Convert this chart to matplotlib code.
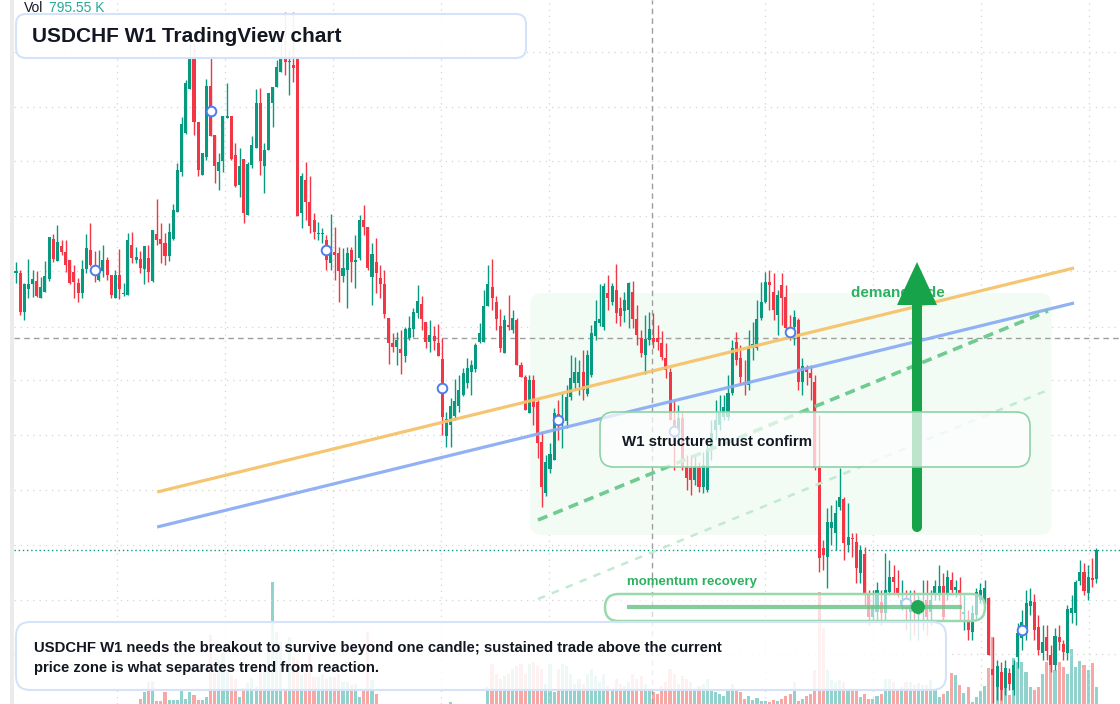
import numpy as np
import matplotlib
matplotlib.use("Agg")
import matplotlib.pyplot as plt
from matplotlib.colors import to_rgba
from matplotlib.patches import FancyBboxPatch, FancyArrow, Circle, Rectangle

plt.rcParams['font.family'] = ['Liberation Sans', 'DejaVu Sans']

# weekly USDCHF candles, oldest first
opens = [
    0.9727, 0.9727, 0.9688, 0.9711, 0.9716, 0.9719, 0.9702, 0.9708, 0.9721, 0.9761,
    0.9739, 0.9754, 0.9748, 0.9740, 0.9728, 0.9717, 0.9707, 0.9731, 0.9750, 0.9735,
    0.9720, 0.9729, 0.9740, 0.9725, 0.9702, 0.9725, 0.9706, 0.9705, 0.9755, 0.9740,
    0.9741, 0.9731, 0.9742, 0.9719, 0.9766, 0.9761, 0.9757, 0.9744, 0.9761, 0.9788,
    0.9828, 0.9867, 0.9911, 0.9943, 0.9878, 0.9825, 0.9843, 0.9914, 0.9865, 0.9829,
    0.9839, 0.9882, 0.9884, 0.9845, 0.9815, 0.9841, 0.9785, 0.9835, 0.9852, 0.9897,
    0.9834, 0.9850, 0.9897, 0.9913, 0.9928, 0.9942, 0.9938, 0.9935, 0.9942, 0.9787,
    0.9820, 0.9798, 0.9780, 0.9766, 0.9766, 0.9760, 0.9737, 0.9748, 0.9747, 0.9724,
    0.9730, 0.9750, 0.9738, 0.9742, 0.9780, 0.9773, 0.9723, 0.9738, 0.9722, 0.9716,
    0.9682, 0.9657, 0.9653, 0.9651, 0.9644, 0.9662, 0.9671, 0.9687, 0.9696, 0.9678,
    0.9658, 0.9664, 0.9657, 0.9641, 0.9564, 0.9575, 0.9584, 0.9594, 0.9605, 0.9617,
    0.9628, 0.9631, 0.9658, 0.9658, 0.9694, 0.9713, 0.9698, 0.9674, 0.9647, 0.9675,
    0.9670, 0.9680, 0.9635, 0.9623, 0.9587, 0.9620, 0.9598, 0.9558, 0.9507, 0.9531,
    0.9540, 0.9586, 0.9577, 0.9579, 0.9603, 0.9617, 0.9617, 0.9628, 0.9606, 0.9625,
    0.9664, 0.9677, 0.9673, 0.9707, 0.9698, 0.9710, 0.9692, 0.9689, 0.9690, 0.9708,
    0.9681, 0.9662, 0.9645, 0.9660, 0.9662, 0.9662, 0.9657, 0.9642, 0.9628, 0.9580,
    0.9570, 0.9582, 0.9533, 0.9532, 0.9520, 0.9532, 0.9513, 0.9510, 0.9550, 0.9570,
    0.9575, 0.9583, 0.9583, 0.9607, 0.9658, 0.9642, 0.9618, 0.9615, 0.9652, 0.9652,
    0.9682, 0.9698, 0.9718, 0.9708, 0.9685, 0.9715, 0.9703, 0.9672, 0.9673, 0.9680,
    0.9618, 0.9631, 0.9627, 0.9618, 0.9532, 0.9452, 0.9443, 0.9472, 0.9467, 0.9493,
    0.9501, 0.9455, 0.9462, 0.9458, 0.9427, 0.9446, 0.9407, 0.9383, 0.9388, 0.9398,
    0.9387, 0.9408, 0.9423, 0.9412, 0.9395, 0.9402, 0.9388, 0.9395, 0.9385, 0.9388,
    0.9400, 0.9388, 0.9407, 0.9407, 0.9414, 0.9407, 0.9420, 0.9410, 0.9410, 0.9386,
    0.9380, 0.9368, 0.9385, 0.9400, 0.9400, 0.9402, 0.9331, 0.9313, 0.9328, 0.9312,
    0.9327, 0.9310, 0.9343, 0.9362, 0.9367, 0.9394, 0.9398, 0.9373, 0.9347, 0.9363,
    0.9345, 0.9335, 0.9363, 0.9356, 0.9347, 0.9387, 0.9387, 0.9419, 0.9428, 0.9407,
    0.9422, 0.9421,
]
closes = [
    0.9729, 0.9688, 0.9716, 0.9716, 0.9721, 0.9704, 0.9713, 0.9724, 0.9763, 0.9741,
    0.9758, 0.9748, 0.9735, 0.9717, 0.9718, 0.9707, 0.9731, 0.9752, 0.9735, 0.9725,
    0.9729, 0.9740, 0.9725, 0.9705, 0.9725, 0.9711, 0.9707, 0.9760, 0.9742, 0.9743,
    0.9732, 0.9754, 0.9728, 0.9770, 0.9760, 0.9756, 0.9744, 0.9768, 0.9790, 0.9830,
    0.9876, 0.9917, 0.9943, 0.9878, 0.9830, 0.9847, 0.9914, 0.9864, 0.9834, 0.9838,
    0.9884, 0.9884, 0.9841, 0.9814, 0.9834, 0.9787, 0.9836, 0.9855, 0.9897, 0.9839,
    0.9850, 0.9907, 0.9913, 0.9933, 0.9942, 0.9938, 0.9939, 0.9932, 0.9784, 0.9824,
    0.9798, 0.9774, 0.9768, 0.9767, 0.9767, 0.9740, 0.9747, 0.9745, 0.9729, 0.9732,
    0.9747, 0.9738, 0.9740, 0.9780, 0.9773, 0.9732, 0.9746, 0.9727, 0.9716, 0.9686,
    0.9657, 0.9653, 0.9660, 0.9647, 0.9671, 0.9672, 0.9688, 0.9699, 0.9681, 0.9658,
    0.9665, 0.9659, 0.9644, 0.9583, 0.9581, 0.9594, 0.9599, 0.9610, 0.9627, 0.9632,
    0.9635, 0.9655, 0.9667, 0.9694, 0.9716, 0.9702, 0.9681, 0.9652, 0.9680, 0.9673,
    0.9682, 0.9635, 0.9623, 0.9590, 0.9620, 0.9593, 0.9557, 0.9513, 0.9538, 0.9546,
    0.9587, 0.9575, 0.9580, 0.9603, 0.9622, 0.9628, 0.9628, 0.9610, 0.9645, 0.9667,
    0.9679, 0.9681, 0.9714, 0.9702, 0.9714, 0.9687, 0.9684, 0.9700, 0.9717, 0.9681,
    0.9665, 0.9647, 0.9661, 0.9671, 0.9658, 0.9658, 0.9643, 0.9630, 0.9580, 0.9558,
    0.9582, 0.9533, 0.9522, 0.9520, 0.9533, 0.9513, 0.9535, 0.9550, 0.9567, 0.9580,
    0.9587, 0.9593, 0.9607, 0.9652, 0.9640, 0.9623, 0.9615, 0.9653, 0.9656, 0.9681,
    0.9698, 0.9718, 0.9715, 0.9690, 0.9705, 0.9702, 0.9672, 0.9664, 0.9683, 0.9618,
    0.9634, 0.9628, 0.9622, 0.9532, 0.9442, 0.9445, 0.9478, 0.9478, 0.9487, 0.9503,
    0.9457, 0.9463, 0.9461, 0.9432, 0.9450, 0.9407, 0.9383, 0.9395, 0.9410, 0.9387,
    0.9410, 0.9423, 0.9418, 0.9407, 0.9400, 0.9392, 0.9400, 0.9388, 0.9392, 0.9398,
    0.9383, 0.9400, 0.9414, 0.9414, 0.9383, 0.9423, 0.9410, 0.9413, 0.9407, 0.9388,
    0.9370, 0.9387, 0.9408, 0.9410, 0.9412, 0.9345, 0.9325, 0.9334, 0.9310, 0.9332,
    0.9316, 0.9335, 0.9367, 0.9378, 0.9397, 0.9399, 0.9370, 0.9350, 0.9358, 0.9349,
    0.9335, 0.9364, 0.9358, 0.9348, 0.9391, 0.9392, 0.9418, 0.9428, 0.9409, 0.9423,
    0.9420, 0.9450,
]
highs = [
    0.9738, 0.9730, 0.9717, 0.9741, 0.9730, 0.9729, 0.9723, 0.9739, 0.9763, 0.9766,
    0.9775, 0.9760, 0.9760, 0.9740, 0.9735, 0.9722, 0.9740, 0.9766, 0.9777, 0.9749,
    0.9750, 0.9755, 0.9743, 0.9725, 0.9730, 0.9751, 0.9717, 0.9767, 0.9768, 0.9753,
    0.9749, 0.9754, 0.9755, 0.9770, 0.9801, 0.9777, 0.9767, 0.9777, 0.9796, 0.9837,
    0.9883, 0.9920, 0.9957, 0.9957, 0.9878, 0.9847, 0.9921, 0.9942, 0.9865, 0.9847,
    0.9884, 0.9917, 0.9884, 0.9857, 0.9852, 0.9841, 0.9838, 0.9864, 0.9911, 0.9912,
    0.9857, 0.9907, 0.9913, 0.9940, 0.9957, 0.9988, 0.9950, 0.9988, 0.9942, 0.9827,
    0.9838, 0.9824, 0.9787, 0.9778, 0.9772, 0.9765, 0.9786, 0.9773, 0.9753, 0.9752,
    0.9753, 0.9753, 0.9765, 0.9785, 0.9795, 0.9773, 0.9757, 0.9762, 0.9735, 0.9730,
    0.9682, 0.9667, 0.9668, 0.9670, 0.9673, 0.9684, 0.9692, 0.9715, 0.9704, 0.9678,
    0.9680, 0.9674, 0.9676, 0.9662, 0.9588, 0.9602, 0.9621, 0.9625, 0.9632, 0.9642,
    0.9640, 0.9657, 0.9677, 0.9710, 0.9735, 0.9741, 0.9704, 0.9691, 0.9685, 0.9705,
    0.9690, 0.9682, 0.9638, 0.9625, 0.9625, 0.9625, 0.9600, 0.9568, 0.9545, 0.9557,
    0.9592, 0.9600, 0.9607, 0.9615, 0.9645, 0.9643, 0.9640, 0.9650, 0.9650, 0.9675,
    0.9700, 0.9716, 0.9717, 0.9725, 0.9717, 0.9736, 0.9703, 0.9708, 0.9718, 0.9719,
    0.9695, 0.9670, 0.9685, 0.9688, 0.9687, 0.9675, 0.9669, 0.9657, 0.9632, 0.9600,
    0.9595, 0.9588, 0.9545, 0.9545, 0.9545, 0.9538, 0.9548, 0.9560, 0.9580, 0.9600,
    0.9605, 0.9605, 0.9625, 0.9660, 0.9668, 0.9655, 0.9640, 0.9670, 0.9678, 0.9700,
    0.9718, 0.9728, 0.9730, 0.9727, 0.9710, 0.9727, 0.9715, 0.9685, 0.9690, 0.9682,
    0.9642, 0.9635, 0.9635, 0.9625, 0.9585, 0.9460, 0.9492, 0.9495, 0.9500, 0.9532,
    0.9503, 0.9497, 0.9467, 0.9467, 0.9455, 0.9453, 0.9410, 0.9410, 0.9418, 0.9410,
    0.9447, 0.9440, 0.9435, 0.9430, 0.9420, 0.9410, 0.9410, 0.9410, 0.9405, 0.9420,
    0.9420, 0.9410, 0.9420, 0.9435, 0.9427, 0.9430, 0.9428, 0.9420, 0.9423, 0.9405,
    0.9390, 0.9395, 0.9412, 0.9417, 0.9420, 0.9403, 0.9363, 0.9340, 0.9338, 0.9340,
    0.9332, 0.9340, 0.9377, 0.9390, 0.9410, 0.9412, 0.9406, 0.9385, 0.9375, 0.9375,
    0.9355, 0.9372, 0.9375, 0.9360, 0.9395, 0.9405, 0.9420, 0.9440, 0.9437, 0.9435,
    0.9442, 0.9452,
]
lows = [
    0.9717, 0.9685, 0.9680, 0.9702, 0.9703, 0.9703, 0.9702, 0.9708, 0.9719, 0.9738,
    0.9739, 0.9745, 0.9728, 0.9716, 0.9702, 0.9698, 0.9702, 0.9727, 0.9734, 0.9718,
    0.9719, 0.9723, 0.9720, 0.9702, 0.9702, 0.9701, 0.9704, 0.9705, 0.9737, 0.9737,
    0.9727, 0.9716, 0.9718, 0.9718, 0.9755, 0.9737, 0.9735, 0.9739, 0.9760, 0.9788,
    0.9824, 0.9866, 0.9911, 0.9865, 0.9824, 0.9825, 0.9840, 0.9864, 0.9817, 0.9810,
    0.9828, 0.9882, 0.9840, 0.9813, 0.9803, 0.9777, 0.9785, 0.9832, 0.9852, 0.9825,
    0.9807, 0.9850, 0.9873, 0.9913, 0.9928, 0.9925, 0.9905, 0.9918, 0.9784, 0.9772,
    0.9780, 0.9767, 0.9761, 0.9760, 0.9757, 0.9730, 0.9730, 0.9720, 0.9698, 0.9718,
    0.9692, 0.9718, 0.9712, 0.9740, 0.9765, 0.9730, 0.9695, 0.9707, 0.9702, 0.9682,
    0.9636, 0.9648, 0.9635, 0.9626, 0.9638, 0.9660, 0.9663, 0.9682, 0.9670, 0.9652,
    0.9648, 0.9650, 0.9644, 0.9565, 0.9553, 0.9553, 0.9580, 0.9588, 0.9604, 0.9612,
    0.9605, 0.9628, 0.9657, 0.9658, 0.9694, 0.9690, 0.9670, 0.9648, 0.9647, 0.9670,
    0.9667, 0.9635, 0.9623, 0.9590, 0.9587, 0.9575, 0.9542, 0.9493, 0.9504, 0.9527,
    0.9540, 0.9560, 0.9552, 0.9572, 0.9600, 0.9610, 0.9605, 0.9600, 0.9604, 0.9623,
    0.9660, 0.9674, 0.9670, 0.9690, 0.9695, 0.9677, 0.9674, 0.9678, 0.9672, 0.9672,
    0.9655, 0.9643, 0.9626, 0.9655, 0.9652, 0.9650, 0.9640, 0.9622, 0.9580, 0.9530,
    0.9555, 0.9530, 0.9510, 0.9505, 0.9515, 0.9508, 0.9507, 0.9508, 0.9540, 0.9560,
    0.9570, 0.9580, 0.9580, 0.9605, 0.9635, 0.9615, 0.9605, 0.9610, 0.9640, 0.9650,
    0.9680, 0.9697, 0.9690, 0.9680, 0.9665, 0.9675, 0.9670, 0.9660, 0.9655, 0.9610,
    0.9605, 0.9615, 0.9600, 0.9530, 0.9428, 0.9430, 0.9412, 0.9455, 0.9450, 0.9490,
    0.9440, 0.9448, 0.9443, 0.9417, 0.9417, 0.9395, 0.9375, 0.9380, 0.9380, 0.9375,
    0.9380, 0.9405, 0.9407, 0.9403, 0.9390, 0.9370, 0.9360, 0.9365, 0.9360, 0.9370,
    0.9365, 0.9375, 0.9400, 0.9400, 0.9380, 0.9400, 0.9405, 0.9403, 0.9380, 0.9370,
    0.9360, 0.9360, 0.9380, 0.9397, 0.9396, 0.9345, 0.9297, 0.9300, 0.9300, 0.9305,
    0.9310, 0.9305, 0.9332, 0.9350, 0.9360, 0.9385, 0.9360, 0.9345, 0.9340, 0.9340,
    0.9328, 0.9330, 0.9350, 0.9340, 0.9340, 0.9377, 0.9375, 0.9415, 0.9405, 0.9400,
    0.9413, 0.9417,
]
# volume in thousands
volumes_k = [
    0, 0, 0, 0, 0, 0, 0, 0, 0, 0,
    0, 0, 0, 0, 0, 0, 0, 0, 0, 0,
    0, 0, 0, 0, 0, 0, 0, 0, 0, 0,
    235, 564, 1034, 1081, 141, 141, 564, 188, 188, 188,
    658, 235, 564, 423, 188, 188, 329, 3243, 1457, 2068,
    2397, 1598, 1363, 1175, 329, 752, 987, 1222, 799, 1598,
    1880, 2538, 5734, 3384, 2914, 658, 3149, 2209, 2068, 1363,
    1457, 2397, 1269, 1269, 1410, 1175, 1269, 1269, 1410, 1034,
    1034, 893, 940, 329, 658, 3384, 1128, 470, 0, 0,
    0, 0, 0, 0, 0, 0, 0, 0, 0, 0,
    0, 0, 0, 0, 0, 94, 0, 0, 0, 0,
    0, 0, 0, 0, 799, 1880, 1410, 1175, 1316, 1410,
    1645, 1786, 1880, 1410, 1880, 1974, 1786, 1645, 940, 1880,
    564, 1645, 1880, 1786, 1410, 940, 1175, 940, 1410, 1645,
    1316, 1034, 1410, 846, 705, 1175, 940, 846, 1034, 1410,
    1175, 1316, 940, 705, 564, 470, 846, 1034, 1645, 1410,
    940, 1316, 1175, 1034, 705, 846, 940, 1175, 705, 564,
    470, 376, 705, 940, 658, 564, 235, 376, 188, 282,
    141, 141, 94, 188, 141, 235, 376, 470, 1034, 141,
    235, 376, 470, 1598, 5264, 3572, 1598, 1128, 1034, 1128,
    1034, 705, 658, 611, 329, 470, 235, 235, 376, 470,
    1175, 1175, 1034, 611, 799, 1034, 1034, 893, 987, 893,
    893, 1128, 658, 329, 470, 611, 1457, 1363, 893, 517,
    799, 94, 329, 611, 846, 1692, 3149, 1786, 1269, 1598,
    423, 2162, 1974, 1974, 1504, 799, 658, 799, 1410, 1974,
    1974, 1598, 1974, 1739, 1410, 2585, 1739, 2021, 1833, 1598,
    1927, 796,
]

marker_idx = [19, 47, 75, 103, 131, 159, 187, 215, 243]
ref_level = 0.9662
cross_idx = 153.6
trend_x = [34.1, 255.6]
trend_upper = [0.9508, 0.9732]
trend_lower = [0.9473, 0.9697]
channel_x = [126.1, 249.3]
channel_mid = [0.9480, 0.9689]
channel_low = [0.9401, 0.9610]
zone_x = [124.2, 250.2]
zone_y = [0.9465, 0.9707]
last_vol = '795.55 K'

assert len(opens) == len(closes) == len(highs) == len(lows) == len(volumes_k)

UP = '#089981'
DOWN = '#f23645'
INK = '#131722'
GREEN = '#16a34a'
W, H = 1120, 704

o = np.array(opens)
c = np.array(closes)
hi = np.maximum(np.array(highs), np.maximum(o, c))
lo = np.minimum(np.array(lows), np.minimum(o, c))
idx = np.arange(len(o))
up = c >= o
cols = np.where(up, UP, DOWN)
vcols = np.where(up, '#26a69a', '#ef5350')

fig = plt.figure(figsize=(W / 100, H / 100), dpi=100)
fig.patch.set_facecolor('white')
rect = [14 / W, 0, (W - 14) / W, 1]

ax_vol = fig.add_axes(rect, zorder=1)
ax = fig.add_axes(rect, zorder=2, sharex=ax_vol)
ax.patch.set_alpha(0)

xlim = (-0.48, 266.7)
ylim = (0.9296, 1.0)

# volume underneath
ax_vol.bar(idx, volumes_k, width=0.75, color=vcols, alpha=0.5, linewidth=0)
ax_vol.set_ylim(0, 33088)

# grid
grid_levels = [0.9346, 0.9400, 0.9455, 0.9510, 0.9565, 0.9620, 0.9673,
               0.9729, 0.9784, 0.9839, 0.9893, 0.9948]
grid_idx = [24.4, 50.5, 76.6, 102.7, 128.8, 181.0, 207.1, 233.2, 259.3]
for g in grid_levels:
    ax.axhline(g, color='#d4d4d4', lw=0.9, ls=(0, (1, 4)), zorder=0)
for g in grid_idx:
    ax.axvline(g, color='#d4d4d4', lw=0.9, ls=(0, (1, 4)), zorder=0)

# demand zone
zone = FancyBboxPatch((zone_x[0], zone_y[0]), zone_x[1] - zone_x[0], zone_y[1] - zone_y[0],
                      boxstyle='round,pad=0,rounding_size=3', mutation_aspect=0.000414,
                      facecolor='#f3fbf5', edgecolor='none', zorder=0.5)
ax.add_patch(zone)

# candles
ax.vlines(idx, lo, hi, colors=cols, lw=1, zorder=2)
ax.bar(idx, np.maximum(np.abs(c - o), 0.00008), bottom=np.minimum(o, c),
       width=0.74, color=cols, linewidth=0, zorder=3)

# reference lines
ax.axhline(ref_level, color='#9e9e9e', lw=1, ls=(0, (4, 3)), zorder=1)
ax.axvline(cross_idx, color='#9e9e9e', lw=1, ls=(0, (4, 3)), zorder=1)
ax.axhline(c[-1], color=UP, lw=1, ls=(0, (1, 2)), zorder=1)

# trend lines and channel
ax.plot(trend_x, trend_upper, color='#f6c26a', lw=2.3, alpha=0.95, zorder=4,
        solid_capstyle='butt')
ax.plot(trend_x, trend_lower, color='#8badf4', lw=2.3, alpha=0.95, zorder=4,
        solid_capstyle='butt')
ax.plot(channel_x, channel_mid, color='#6fcb8f', lw=2.6, ls=(0, (2.8, 1.8)), zorder=4)
ax.plot(channel_x, channel_low, color='#c3ead1', lw=1.8, ls=(0, (3, 3)), zorder=4)

# markers on candle bodies
mids = [(o[i] + c[i]) / 2 for i in marker_idx]
ax.scatter(marker_idx, mids, s=48, facecolor='white', edgecolor='#4d7cf0',
           linewidths=1.4, zorder=5)

for a in (ax, ax_vol):
    a.set_xlim(*xlim)
    a.set_xticks([])
    a.set_yticks([])
    for s in a.spines.values():
        s.set_visible(False)
ax.set_ylim(*ylim)

# left strip
fig.add_artist(Rectangle((10 / W, 0), 4 / W, 1, transform=fig.transFigure,
                         facecolor='#ebebeb', edgecolor='none'))

# overlay in pixel coordinates
top = fig.add_axes([0, 0, 1, 1], zorder=3)
top.set_xlim(0, W)
top.set_ylim(H, 0)
top.axis('off')
top.patch.set_alpha(0)


def rbox(x0, y0, x1, y1, r, face_alpha, edge, lw, z):
    p = FancyBboxPatch((x0, y0), x1 - x0, y1 - y0,
                       boxstyle=f'round,pad=0,rounding_size={r}',
                       facecolor=to_rgba('white', face_alpha), edgecolor=edge,
                       lw=lw, zorder=z)
    top.add_patch(p)


top.text(24, 8, 'Vol', fontsize=10, color=INK, va='center')
top.text(49, 8, last_vol, fontsize=10, color='#22ab94', va='center')

rbox(16, 14, 526, 58, 10, 0.92, '#d5e3fa', 1.5, 2)
top.text(32, 37, 'USDCHF W1 TradingView chart', fontsize=15, fontweight='bold',
         color=INK, va='center', zorder=3)

top.text(851, 293, 'demand side', fontsize=11, fontweight='bold', color='#2eb062',
         va='center', zorder=1)
top.add_patch(FancyArrow(917, 527, 0, -265, width=10, head_width=40, head_length=43,
                         length_includes_head=True, color=GREEN, lw=0, zorder=2))
top.add_patch(Circle((917, 527), 5, color=GREEN, lw=0, zorder=2))

rbox(600, 412, 1030, 467, 14, 0.72, '#8ed3a4', 1.2, 3)
top.text(622, 442, 'W1 structure must confirm', fontsize=10.8, fontweight='bold',
         color=INK, va='center', zorder=4)

top.text(627, 582, 'momentum recovery', fontsize=9.5, fontweight='bold',
         color='#2eb062', va='center', zorder=4)
rbox(605, 594, 985, 621, 13.5, 0.6, '#9ad9ae', 1.8, 3)
top.plot([627, 962], [607, 607], color='#6cc58b', lw=3, alpha=0.85,
         solid_capstyle='butt', zorder=4)
top.add_patch(Circle((918, 607), 7, color='#22a855', lw=0, zorder=5))

rbox(16, 622, 946, 690, 14, 0.85, '#d5e3fa', 1.5, 3)
top.text(34, 648, 'USDCHF W1 needs the breakout to survive beyond one candle; '
         'sustained trade above the current', fontsize=10.75, fontweight='bold',
         color=INK, va='center', zorder=4)
top.text(34, 668, 'price zone is what separates trend from reaction.', fontsize=10.75,
         fontweight='bold', color=INK, va='center', zorder=4)

fig.savefig('out.png', dpi=100)
